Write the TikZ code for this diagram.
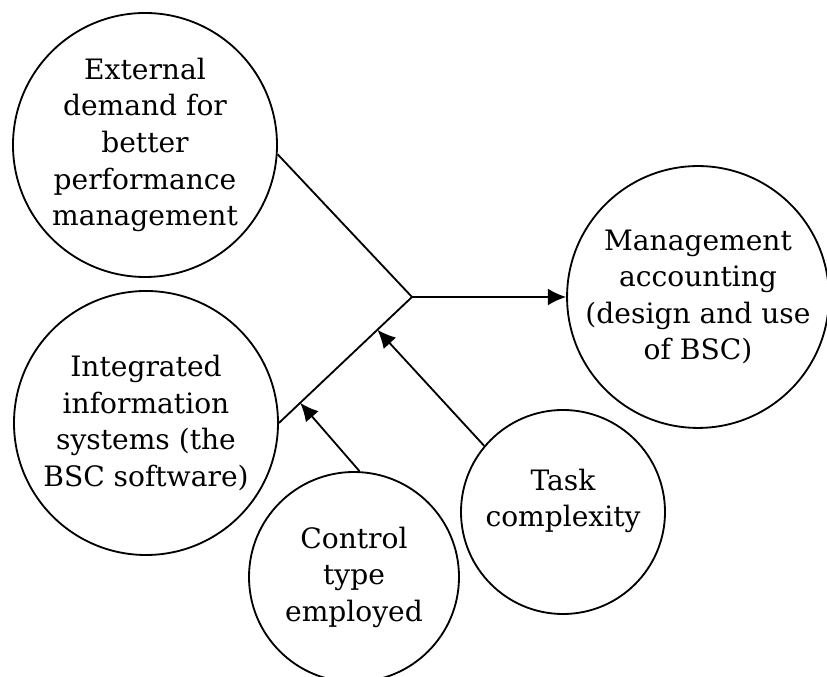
\documentclass[tikz,border=0pt]{standalone}
\usepackage{fontspec}
\setmainfont{DejaVu Serif}
\usetikzlibrary{arrows.meta, calc}

\begin{document}
\begin{tikzpicture}[line width=1.3pt,
        factor/.style={draw, circle, inner sep=0pt, align=center, font=\fontsize{20}{26}\selectfont},
        link/.style={-{Latex[length=13pt,width=12pt]}}]
        \useasboundingbox (0,0) rectangle (20.675,16.925);
        \node (ext) at (3.625,13.3) [factor, minimum size=6.6cm] {External\\demand for\\better\\performance\\management};
        \node (iis) at (3.65,6.35) [factor, minimum size=6.6cm] {Integrated\\information\\systems (the\\BSC software)};
        \node (mac) at (17.45,9.5) [factor, minimum size=6.5cm] {Management\\accounting\\(design and use\\of BSC)};
        \node (task) at (14.075,4.125) [factor, minimum size=5.1cm] {};
        \node (tasktext) at ([yshift=8pt]task.center) [align=center, font=\fontsize{20}{26}\selectfont] {Task\\complexity};
        \node (ctrl) at (8.85,2.5) [factor, minimum size=5.25cm] {Control\\type\\employed};
        \coordinate (join) at (10.3,9.5);
        \draw (ext.-4) -- (join);
        \draw (iis.east) -- (join);
        \draw [link] (join) -- (mac.west);
        \draw [link] (task.140) -- ($(iis.east)!0.74!(join)$);
        \draw [link] (ctrl.87) -- ($(iis.east)!0.16!(join)$);
    \end{tikzpicture}
\end{document}
